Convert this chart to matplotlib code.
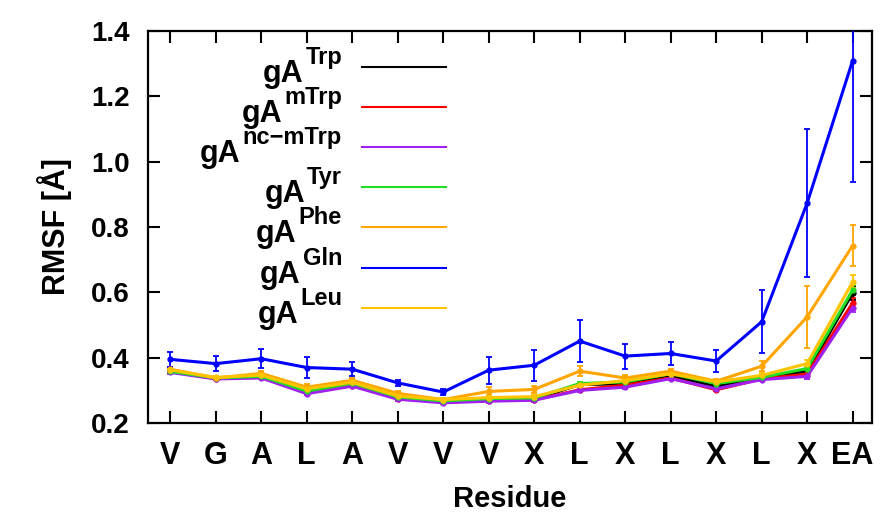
import numpy as np
import matplotlib
matplotlib.use('Agg')
import matplotlib.pyplot as plt
import matplotlib.transforms as mtransforms

plt.rcParams['font.family'] = ['Liberation Sans', 'DejaVu Sans']
plt.rcParams['font.weight'] = 'bold'

residues = ['V', 'G', 'A', 'L', 'A', 'V', 'V', 'V', 'X', 'L', 'X', 'L', 'X', 'L', 'X', 'EA']

names = ['Trp', 'mTrp', 'nc\u2212mTrp', 'Tyr', 'Phe', 'Gln', 'Leu']
colours = ['#000000', '#ff0000', '#a020f0', '#22dd22', '#ffa500', '#0000ff', '#ffc400']

rmsf_trp = [0.360, 0.338, 0.342, 0.296, 0.318, 0.277, 0.265, 0.270, 0.273, 0.318, 0.320, 0.345, 0.312, 0.338, 0.358, 0.598]
rmsf_mtrp = [0.358, 0.336, 0.340, 0.293, 0.315, 0.275, 0.264, 0.269, 0.271, 0.302, 0.316, 0.338, 0.302, 0.335, 0.350, 0.568]
rmsf_ncmtrp = [0.355, 0.335, 0.338, 0.290, 0.313, 0.273, 0.262, 0.267, 0.270, 0.300, 0.310, 0.336, 0.305, 0.333, 0.343, 0.553]
rmsf_tyr = [0.358, 0.338, 0.343, 0.298, 0.322, 0.280, 0.268, 0.275, 0.277, 0.321, 0.326, 0.351, 0.321, 0.340, 0.367, 0.607]
rmsf_phe = [0.365, 0.338, 0.352, 0.310, 0.331, 0.291, 0.272, 0.297, 0.303, 0.359, 0.338, 0.359, 0.328, 0.374, 0.525, 0.743]
rmsf_gln = [0.395, 0.382, 0.397, 0.370, 0.365, 0.323, 0.295, 0.362, 0.377, 0.451, 0.405, 0.413, 0.390, 0.510, 0.873, 1.309]
rmsf_leu = [0.363, 0.340, 0.347, 0.305, 0.325, 0.283, 0.272, 0.278, 0.281, 0.316, 0.330, 0.351, 0.326, 0.346, 0.382, 0.632]

err_trp = [0.004, 0.004, 0.004, 0.005, 0.004, 0.004, 0.004, 0.004, 0.005, 0.006, 0.005, 0.005, 0.005, 0.005, 0.008, 0.020]
err_mtrp = [0.004, 0.004, 0.004, 0.005, 0.004, 0.004, 0.004, 0.004, 0.005, 0.005, 0.005, 0.005, 0.005, 0.005, 0.007, 0.015]
err_ncmtrp = [0.004, 0.004, 0.004, 0.005, 0.004, 0.004, 0.004, 0.004, 0.005, 0.005, 0.005, 0.005, 0.005, 0.005, 0.007, 0.012]
err_tyr = [0.004, 0.004, 0.004, 0.005, 0.004, 0.004, 0.004, 0.004, 0.005, 0.006, 0.005, 0.005, 0.005, 0.005, 0.008, 0.015]
err_phe = [0.008, 0.006, 0.008, 0.010, 0.008, 0.006, 0.006, 0.012, 0.012, 0.015, 0.008, 0.008, 0.008, 0.015, 0.095, 0.063]
err_gln = [0.023, 0.022, 0.029, 0.033, 0.022, 0.008, 0.010, 0.041, 0.048, 0.064, 0.038, 0.035, 0.035, 0.096, 0.226, 0.370]
err_leu = [0.004, 0.004, 0.004, 0.005, 0.004, 0.004, 0.004, 0.004, 0.005, 0.006, 0.005, 0.005, 0.005, 0.006, 0.010, 0.020]

series = [rmsf_trp, rmsf_mtrp, rmsf_ncmtrp, rmsf_tyr, rmsf_phe, rmsf_gln, rmsf_leu]
errors = [err_trp, err_mtrp, err_ncmtrp, err_tyr, err_phe, err_gln, err_leu]

fig = plt.figure(figsize=(8.81, 5.23), dpi=100)
ax = fig.add_axes([0.168, 0.191, 0.822, 0.750])

x = np.arange(len(residues))
for vals, errs, col in zip(series, errors, colours):
    ax.errorbar(x, vals, yerr=errs, color=col, lw=2.2, elinewidth=1.3, capsize=2.2, capthick=1.3,
                marker='o', markersize=3.5, zorder=3)

ax.set_xlim(-0.49, 15.43)
ax.set_ylim(0.2, 1.4)
ax.set_xticks(x)
ax.set_xticklabels(residues, fontsize=22, fontweight='bold')
ax.set_yticks(np.arange(0.2, 1.41, 0.2))
ax.set_yticklabels(['{:.1f}'.format(v) for v in np.arange(0.2, 1.41, 0.2)], fontsize=20, fontweight='bold')
ax.tick_params(direction='in', length=8.5, width=1.5, top=True, right=True)
ax.tick_params(axis='x', pad=13)
ax.tick_params(axis='y', pad=13)
for sp in ax.spines.values():
    sp.set_linewidth(1.6)

ax.set_xlabel('Residue', fontsize=21, fontweight='bold', labelpad=10)
ax.set_ylabel('RMSF [\u00c5]', fontsize=22, fontweight='bold', labelpad=14)

# gnuplot-like key: right-aligned labels with superscripts, lines on the right
fig.canvas.draw()
renderer = fig.canvas.get_renderer()
lx0, lx1 = 0.296, 0.412
tx = 0.268
ly0 = 0.908
ldy = 40.1 / 392.0
for i, (name, col) in enumerate(zip(names, colours)):
    ly = ly0 - i * ldy
    ax.plot([lx0, lx1], [ly, ly], transform=ax.transAxes, color=col, lw=1.5, clip_on=False)
    sup = ax.text(tx, ly, name, fontsize=17, fontweight='bold', ha='right', va='baseline',
                  transform=mtransforms.offset_copy(ax.transAxes, fig=fig, x=0, y=3, units='dots'))
    w = sup.get_window_extent(renderer).width
    ax.text(tx, ly, 'gA', fontsize=22, fontweight='bold', ha='right', va='baseline',
            transform=mtransforms.offset_copy(ax.transAxes, fig=fig, x=-(w + 2), y=-15, units='dots'))

fig.savefig('out.png', dpi=100)
